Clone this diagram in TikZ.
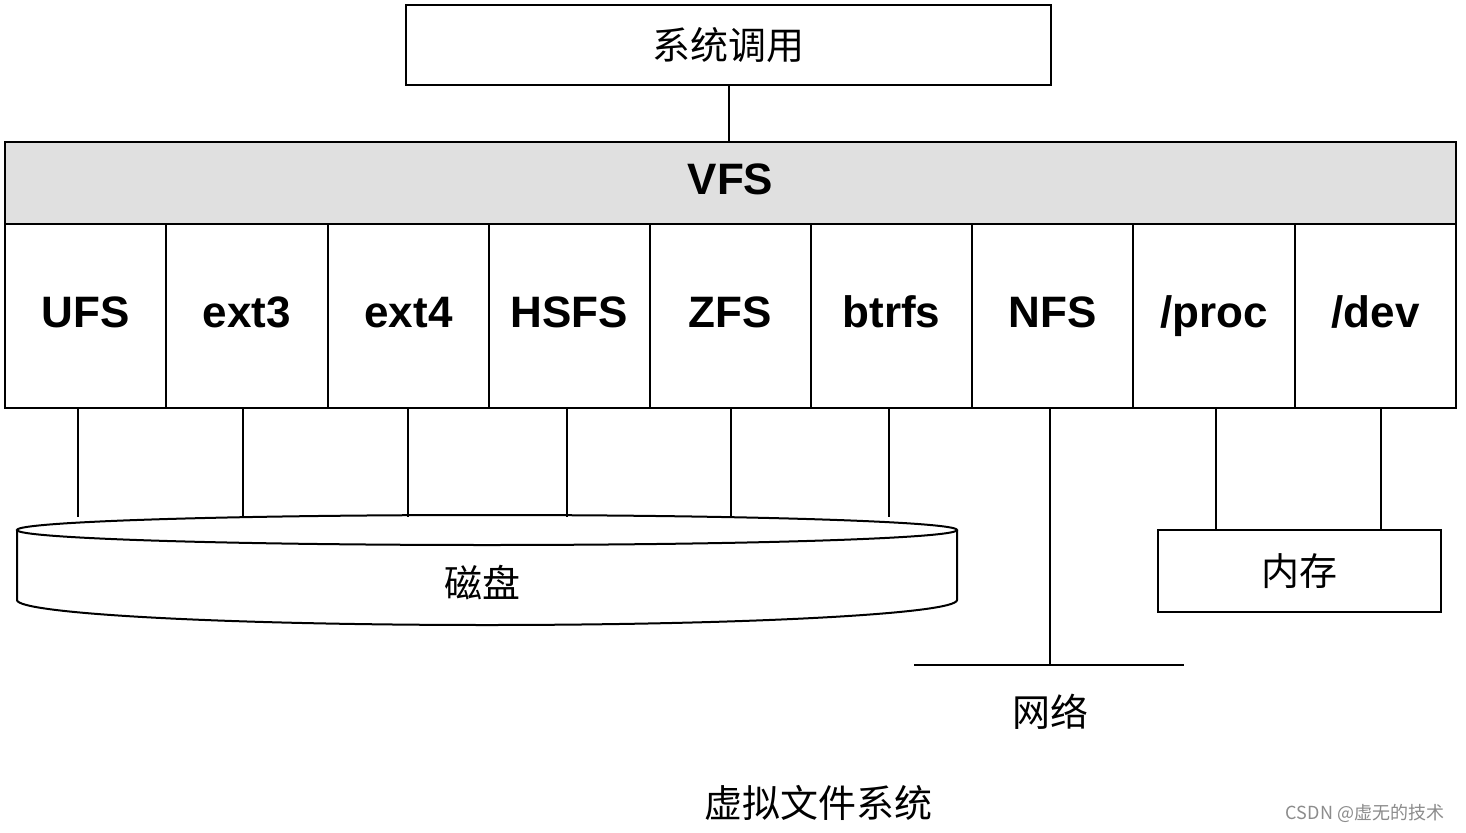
\documentclass[tikz,border=0pt]{standalone}
\usepackage{fontspec}
\setmainfont{Liberation Sans}
\newfontfamily\cjk{Noto Sans CJK SC}
\begin{document}
\begin{tikzpicture}[x=1pt,y=-1pt,
  bx/.style={draw,line width=2pt},
  fs/.style={font=\bfseries\fontsize{44}{48}\selectfont,text height=32pt,text depth=9pt},
  cj/.style={font=\cjk\fontsize{38}{42}\selectfont},
  ln/.style={line width=2pt}]
\useasboundingbox[fill=white] (0,0) rectangle (1466,832);
\node[bx,minimum width=645pt,minimum height=80pt,cj] (sys) at (728.5,45) {系统调用};
\node[bx,fill=black!12,minimum width=1451pt,minimum height=82pt,fs] (vfs) at (730.5,183) {VFS};
\foreach \n/\t/\a/\b in {c1/UFS/5/166,c2/ext3/166/328,c3/ext4/328/489,c4/HSFS/489/650,c5/ZFS/650/811,c6/btrfs/811/972,c7/NFS/972/1133,c8/{/proc}/1133/1295,c9/{/dev}/1295/1456}{
  \node[bx,minimum width={\b-\a},minimum height=184pt,fs,inner sep=0pt] (\n) at ({(\a+\b)/2},316) {\t};
}
\draw[ln] (sys.south) -- (sys.south |- vfs.north);
% disk
\draw[ln,fill=white] (17,530) -- (17,600) arc[start angle=180,end angle=0,x radius=470,y radius=25] -- (957,530);
\draw[ln,fill=white] (487,530) ellipse[x radius=470,y radius=15];
\node[cj] (disk) at (482,583) {磁盘};
\foreach \x in {78,243,408,567,731,889}{\draw[ln] (\x,408) -- (\x,517);}
% network
\coordinate (nb) at (1050,665);
\draw[ln] (1050,408) -- (nb);
\draw[ln] (914,665) -- (1184,665);
\node[cj] (net) at (1050,712) {网络};
% memory
\node[bx,minimum width=283pt,minimum height=82pt,cj] (mem) at (1299.5,571) {内存};
\draw[ln] (1216,408) -- (1216,530);
\draw[ln] (1381,408) -- (1381,530);
\node[cj] (cap) at (818,803) {虚拟文件系统};
\node[font=\cjk\fontsize{18}{20}\selectfont,text=black!45] (wm) at (1365,813) {CSDN @虚无的技术};
\end{tikzpicture}
\end{document}
